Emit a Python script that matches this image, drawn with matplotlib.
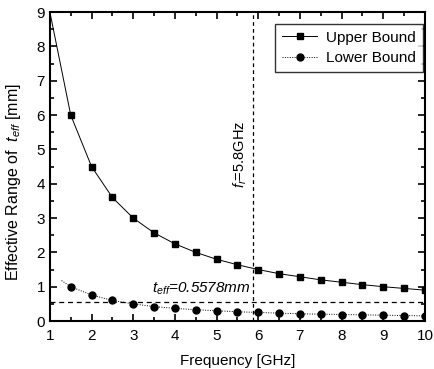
import matplotlib
matplotlib.use("Agg")
import matplotlib.pyplot as plt
from matplotlib.ticker import MultipleLocator

plt.rcParams['font.family'] = ['Liberation Sans', 'DejaVu Sans']
plt.rcParams['mathtext.fontset'] = 'custom'
plt.rcParams['mathtext.it'] = 'Liberation Sans:italic'
plt.rcParams['mathtext.rm'] = 'Liberation Sans'

freq = [1.5, 2.0, 2.5, 3.0, 3.5, 4.0, 4.5, 5.0, 5.5, 6.0, 6.5, 7.0, 7.5, 8.0, 8.5, 9.0, 9.5, 10.0]
upper = [6.0, 4.5, 3.6, 3.0, 2.57, 2.25, 2.0, 1.8, 1.64, 1.5, 1.38, 1.29, 1.2, 1.13, 1.06, 1.0, 0.95, 0.9]
lower = [1.0, 0.76, 0.6, 0.5, 0.42, 0.37, 0.33, 0.3, 0.27, 0.25, 0.23, 0.21, 0.2, 0.19, 0.18, 0.17, 0.16, 0.15]
upper_start = (1.0, 9.0)
lower_start = (1.28, 1.18)
f_r = 5.88
t_eff = 0.5578

fig = plt.figure(figsize=(4.34, 3.69), dpi=100)
ax = fig.add_axes([0.115, 0.130, 0.864, 0.837])

ax.plot([upper_start[0]] + freq, [upper_start[1]] + upper, color='black', lw=0.7)
ax.plot(freq, upper, linestyle='none', marker='s', ms=5, color='black')
ax.plot([lower_start[0]] + freq, [lower_start[1]] + lower, color='black', lw=0.7, linestyle=(0, (1, 1.5)))
ax.plot(freq, lower, linestyle='none', marker='o', ms=5, color='black')

# legend proxies
ax.plot([], [], color='black', lw=0.7, marker='s', ms=5, label='Upper Bound')
ax.plot([], [], color='black', lw=0.7, linestyle=(0, (1, 1.5)), marker='o', ms=5, label='Lower Bound')

ax.axhline(t_eff, color='black', lw=0.9, linestyle=(0, (4, 3)))
ax.axvline(f_r, color='black', lw=0.9, linestyle=(0, (3, 2.5)))

ax.text(3.45, 0.82, r'$t_{eff}$=0.5578mm', fontsize=11, style='italic', ha='left', va='baseline')
ax.text(5.58, 4.85, r'$f_r$=5.8GHz', fontsize=10.5, rotation=90, ha='center', va='center')

ax.set_xlim(1, 10)
ax.set_ylim(0, 9)
ax.xaxis.set_major_locator(MultipleLocator(1))
ax.xaxis.set_minor_locator(MultipleLocator(0.5))
ax.yaxis.set_major_locator(MultipleLocator(1))
ax.yaxis.set_minor_locator(MultipleLocator(0.5))
ax.tick_params(which='both', direction='in', top=True, right=True, labelsize=11)
ax.tick_params(which='major', length=5, width=1.2)
ax.tick_params(which='minor', length=3, width=1.2)
ax.tick_params(axis='x', pad=6)
for s in ax.spines.values():
    s.set_linewidth(1.5)

ax.set_xlabel('Frequency [GHz]', fontsize=11, labelpad=8)
ax.set_ylabel(r'Effective Range of  $t_{eff}$ [mm]', fontsize=11.5)
ax.yaxis.set_label_coords(-0.072, 0.45)

leg = ax.legend(loc='upper right', bbox_to_anchor=(0.995, 0.962), fontsize=11,
                frameon=True, fancybox=False, edgecolor='black', borderaxespad=0,
                handlelength=2.3, handletextpad=0.6, borderpad=0.45, labelspacing=0.4)
leg.get_frame().set_linewidth(1.0)

fig.savefig('out.png', dpi=100)
